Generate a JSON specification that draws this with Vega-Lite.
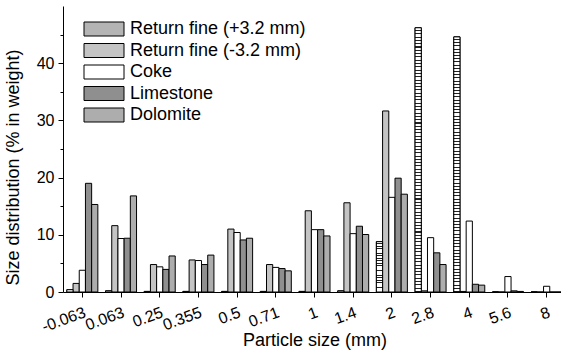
{
  "$schema": "https://vega.github.io/schema/vega-lite/v6.json",
  "autosize": {"type": "none"},
  "padding": {"left": 63, "top": 6, "right": 0, "bottom": 63},
  "width": 498,
  "height": 286,
  "background": "white",
  "config": {"view": {"stroke": null}, "font": "Liberation Sans"},
  "data": {"values": [
    {"size": "-0.063", "series": "Return fine (+3.2 mm)", "value": 0.4},
    {"size": "-0.063", "series": "Return fine (-3.2 mm)", "value": 1.5},
    {"size": "-0.063", "series": "Coke", "value": 3.8},
    {"size": "-0.063", "series": "Limestone", "value": 19.0},
    {"size": "-0.063", "series": "Dolomite", "value": 15.3},
    {"size": "0.063", "series": "Return fine (+3.2 mm)", "value": 0.2},
    {"size": "0.063", "series": "Return fine (-3.2 mm)", "value": 11.6},
    {"size": "0.063", "series": "Coke", "value": 9.35},
    {"size": "0.063", "series": "Limestone", "value": 9.4},
    {"size": "0.063", "series": "Dolomite", "value": 16.8},
    {"size": "0.25", "series": "Return fine (+3.2 mm)", "value": 0.1},
    {"size": "0.25", "series": "Return fine (-3.2 mm)", "value": 4.8},
    {"size": "0.25", "series": "Coke", "value": 4.4},
    {"size": "0.25", "series": "Limestone", "value": 3.95},
    {"size": "0.25", "series": "Dolomite", "value": 6.3},
    {"size": "0.355", "series": "Return fine (+3.2 mm)", "value": 0.1},
    {"size": "0.355", "series": "Return fine (-3.2 mm)", "value": 5.6},
    {"size": "0.355", "series": "Coke", "value": 5.5},
    {"size": "0.355", "series": "Limestone", "value": 4.8},
    {"size": "0.355", "series": "Dolomite", "value": 6.45},
    {"size": "0.5", "series": "Return fine (+3.2 mm)", "value": 0.1},
    {"size": "0.5", "series": "Return fine (-3.2 mm)", "value": 11.0},
    {"size": "0.5", "series": "Coke", "value": 10.4},
    {"size": "0.5", "series": "Limestone", "value": 9.1},
    {"size": "0.5", "series": "Dolomite", "value": 9.4},
    {"size": "0.71", "series": "Return fine (+3.2 mm)", "value": 0.1},
    {"size": "0.71", "series": "Return fine (-3.2 mm)", "value": 4.8},
    {"size": "0.71", "series": "Coke", "value": 4.3},
    {"size": "0.71", "series": "Limestone", "value": 4.1},
    {"size": "0.71", "series": "Dolomite", "value": 3.7},
    {"size": "1", "series": "Return fine (+3.2 mm)", "value": 0.1},
    {"size": "1", "series": "Return fine (-3.2 mm)", "value": 14.2},
    {"size": "1", "series": "Coke", "value": 10.9},
    {"size": "1", "series": "Limestone", "value": 10.9},
    {"size": "1", "series": "Dolomite", "value": 9.8},
    {"size": "1.4", "series": "Return fine (+3.2 mm)", "value": 0.2},
    {"size": "1.4", "series": "Return fine (-3.2 mm)", "value": 15.6},
    {"size": "1.4", "series": "Coke", "value": 10.2},
    {"size": "1.4", "series": "Limestone", "value": 11.5},
    {"size": "1.4", "series": "Dolomite", "value": 10.05},
    {"size": "2", "series": "Return fine (+3.2 mm)", "value": 8.8},
    {"size": "2", "series": "Return fine (-3.2 mm)", "value": 31.65},
    {"size": "2", "series": "Coke", "value": 16.55},
    {"size": "2", "series": "Limestone", "value": 19.9},
    {"size": "2", "series": "Dolomite", "value": 17.1},
    {"size": "2.8", "series": "Return fine (+3.2 mm)", "value": 46.2},
    {"size": "2.8", "series": "Return fine (-3.2 mm)", "value": 0.2},
    {"size": "2.8", "series": "Coke", "value": 9.5},
    {"size": "2.8", "series": "Limestone", "value": 6.85},
    {"size": "2.8", "series": "Dolomite", "value": 4.8},
    {"size": "4", "series": "Return fine (+3.2 mm)", "value": 44.6},
    {"size": "4", "series": "Return fine (-3.2 mm)", "value": 0.1},
    {"size": "4", "series": "Coke", "value": 12.4},
    {"size": "4", "series": "Limestone", "value": 1.35},
    {"size": "4", "series": "Dolomite", "value": 1.2},
    {"size": "5.6", "series": "Return fine (+3.2 mm)", "value": 0},
    {"size": "5.6", "series": "Return fine (-3.2 mm)", "value": 0},
    {"size": "5.6", "series": "Coke", "value": 2.7},
    {"size": "5.6", "series": "Limestone", "value": 0.2},
    {"size": "5.6", "series": "Dolomite", "value": 0.1},
    {"size": "8", "series": "Return fine (+3.2 mm)", "value": 0},
    {"size": "8", "series": "Return fine (-3.2 mm)", "value": 0},
    {"size": "8", "series": "Coke", "value": 1.0},
    {"size": "8", "series": "Limestone", "value": 0},
    {"size": "8", "series": "Dolomite", "value": 0}
  ]},
  "encoding": {
    "x": {
      "field": "size", "type": "ordinal",
      "sort": ["-0.063","0.063","0.25","0.355","0.5","0.71","1","1.4","2","2.8","4","5.6","8"],
      "scale": {"paddingInner": 0, "paddingOuter": 0, "range": [0, 503]},
      "axis": {
        "title": "Particle size (mm)", "titleFontSize": 18, "titleFontWeight": "normal", "titleColor": "black",
        "titleBaseline": "alphabetic", "titleY": 53,
        "labelAngle": -20, "labelAlign": "right", "labelBaseline": "top", "labelFontSize": 16, "labelColor": "black",
        "labelPadding": 7, "tickSize": 5, "tickColor": "black", "domainColor": "black", "grid": false
      }
    },
    "xOffset": {
      "field": "series",
      "sort": ["Return fine (+3.2 mm)", "Return fine (-3.2 mm)", "Coke", "Limestone", "Dolomite"],
      "scale": {"domain": ["Return fine (+3.2 mm)", "Return fine (-3.2 mm)", "Coke", "Limestone", "Dolomite"], "paddingInner": 0, "paddingOuter": 0.62}
    },
    "y": {
      "field": "value", "type": "quantitative",
      "scale": {"domain": [0, 50], "nice": false},
      "axis": {
        "title": "Size distribution (% in weight)", "titleFontSize": 18, "titleFontWeight": "normal", "titleColor": "black",
        "titleBaseline": "alphabetic", "titleAlign": "center", "titleX": -45, "titleY": 161,
        "values": [0, 5, 10, 15, 20, 25, 30, 35, 40, 45],
        "labelExpr": "datum.value % 10 ? '' : datum.label",
        "tickSize": {"expr": "datum.value % 10 ? 3 : 5"},
        "labelFontSize": 16, "labelColor": "black", "labelPadding": 4,
        "tickColor": "black", "domainColor": "black", "grid": false
      }
    }
  },
  "layer": [
    {
      "mark": {"type": "bar", "stroke": "black", "strokeWidth": 1, "opacity": 1},
      "encoding": {
        "fill": {
          "field": "series", "type": "nominal",
          "sort": ["Return fine (+3.2 mm)", "Return fine (-3.2 mm)", "Coke", "Limestone", "Dolomite"],
          "scale": {
            "domain": ["Return fine (+3.2 mm)", "Return fine (-3.2 mm)", "Coke", "Limestone", "Dolomite"],
            "range": ["#b4b4b4", "#c4c4c4", "#ffffff", "#8f8f8f", "#adadad"]
          },
          "legend": {
            "title": null, "orient": "none", "legendX": 32, "legendY": 14, "padding": 0,
            "symbolType": "M-2.5,-0.875H2.5V0.875H-2.5Z", "symbolSize": 256,
            "symbolStrokeColor": "black", "symbolStrokeWidth": 1, "symbolOpacity": 1,
            "labelFontSize": 18, "labelColor": "black", "labelOffset": 17, "rowPadding": 3.5, "labelLimit": 0
          }
        }
      }
    },
    {
      "transform": [{"filter": "datum.series === 'Return fine (+3.2 mm)'"}],
      "mark": {
        "type": "bar", "stroke": "black", "strokeWidth": 1, "opacity": 1,
        "fill": {"gradient": "linear", "x1": 0, "y1": 0, "x2": 0, "y2": 1, "stops": [
            {"offset": 0, "color": "#fff"}, {"offset": 0.0085, "color": "#fff"}, {"offset": 0.0085, "color": "#222"}, {"offset": 0.0125, "color": "#222"},
            {"offset": 0.0125, "color": "#fff"}, {"offset": 0.021, "color": "#fff"}, {"offset": 0.021, "color": "#222"}, {"offset": 0.025, "color": "#222"},
            {"offset": 0.025, "color": "#fff"}, {"offset": 0.0335, "color": "#fff"}, {"offset": 0.0335, "color": "#222"}, {"offset": 0.0375, "color": "#222"},
            {"offset": 0.0375, "color": "#fff"}, {"offset": 0.046, "color": "#fff"}, {"offset": 0.046, "color": "#222"}, {"offset": 0.05, "color": "#222"},
            {"offset": 0.05, "color": "#fff"}, {"offset": 0.0585, "color": "#fff"}, {"offset": 0.0585, "color": "#222"}, {"offset": 0.0625, "color": "#222"},
            {"offset": 0.0625, "color": "#fff"}, {"offset": 0.071, "color": "#fff"}, {"offset": 0.071, "color": "#222"}, {"offset": 0.075, "color": "#222"},
            {"offset": 0.075, "color": "#fff"}, {"offset": 0.0835, "color": "#fff"}, {"offset": 0.0835, "color": "#222"}, {"offset": 0.0875, "color": "#222"},
            {"offset": 0.0875, "color": "#fff"}, {"offset": 0.096, "color": "#fff"}, {"offset": 0.096, "color": "#222"}, {"offset": 0.1, "color": "#222"},
            {"offset": 0.1, "color": "#fff"}, {"offset": 0.1085, "color": "#fff"}, {"offset": 0.1085, "color": "#222"}, {"offset": 0.1125, "color": "#222"},
            {"offset": 0.1125, "color": "#fff"}, {"offset": 0.121, "color": "#fff"}, {"offset": 0.121, "color": "#222"}, {"offset": 0.125, "color": "#222"},
            {"offset": 0.125, "color": "#fff"}, {"offset": 0.1335, "color": "#fff"}, {"offset": 0.1335, "color": "#222"}, {"offset": 0.1375, "color": "#222"},
            {"offset": 0.1375, "color": "#fff"}, {"offset": 0.146, "color": "#fff"}, {"offset": 0.146, "color": "#222"}, {"offset": 0.15, "color": "#222"},
            {"offset": 0.15, "color": "#fff"}, {"offset": 0.1585, "color": "#fff"}, {"offset": 0.1585, "color": "#222"}, {"offset": 0.1625, "color": "#222"},
            {"offset": 0.1625, "color": "#fff"}, {"offset": 0.171, "color": "#fff"}, {"offset": 0.171, "color": "#222"}, {"offset": 0.175, "color": "#222"},
            {"offset": 0.175, "color": "#fff"}, {"offset": 0.1835, "color": "#fff"}, {"offset": 0.1835, "color": "#222"}, {"offset": 0.1875, "color": "#222"},
            {"offset": 0.1875, "color": "#fff"}, {"offset": 0.196, "color": "#fff"}, {"offset": 0.196, "color": "#222"}, {"offset": 0.2, "color": "#222"},
            {"offset": 0.2, "color": "#fff"}, {"offset": 0.2085, "color": "#fff"}, {"offset": 0.2085, "color": "#222"}, {"offset": 0.2125, "color": "#222"},
            {"offset": 0.2125, "color": "#fff"}, {"offset": 0.221, "color": "#fff"}, {"offset": 0.221, "color": "#222"}, {"offset": 0.225, "color": "#222"},
            {"offset": 0.225, "color": "#fff"}, {"offset": 0.2335, "color": "#fff"}, {"offset": 0.2335, "color": "#222"}, {"offset": 0.2375, "color": "#222"},
            {"offset": 0.2375, "color": "#fff"}, {"offset": 0.246, "color": "#fff"}, {"offset": 0.246, "color": "#222"}, {"offset": 0.25, "color": "#222"},
            {"offset": 0.25, "color": "#fff"}, {"offset": 0.2585, "color": "#fff"}, {"offset": 0.2585, "color": "#222"}, {"offset": 0.2625, "color": "#222"},
            {"offset": 0.2625, "color": "#fff"}, {"offset": 0.271, "color": "#fff"}, {"offset": 0.271, "color": "#222"}, {"offset": 0.275, "color": "#222"},
            {"offset": 0.275, "color": "#fff"}, {"offset": 0.2835, "color": "#fff"}, {"offset": 0.2835, "color": "#222"}, {"offset": 0.2875, "color": "#222"},
            {"offset": 0.2875, "color": "#fff"}, {"offset": 0.296, "color": "#fff"}, {"offset": 0.296, "color": "#222"}, {"offset": 0.3, "color": "#222"},
            {"offset": 0.3, "color": "#fff"}, {"offset": 0.3085, "color": "#fff"}, {"offset": 0.3085, "color": "#222"}, {"offset": 0.3125, "color": "#222"},
            {"offset": 0.3125, "color": "#fff"}, {"offset": 0.321, "color": "#fff"}, {"offset": 0.321, "color": "#222"}, {"offset": 0.325, "color": "#222"},
            {"offset": 0.325, "color": "#fff"}, {"offset": 0.3335, "color": "#fff"}, {"offset": 0.3335, "color": "#222"}, {"offset": 0.3375, "color": "#222"},
            {"offset": 0.3375, "color": "#fff"}, {"offset": 0.346, "color": "#fff"}, {"offset": 0.346, "color": "#222"}, {"offset": 0.35, "color": "#222"},
            {"offset": 0.35, "color": "#fff"}, {"offset": 0.3585, "color": "#fff"}, {"offset": 0.3585, "color": "#222"}, {"offset": 0.3625, "color": "#222"},
            {"offset": 0.3625, "color": "#fff"}, {"offset": 0.371, "color": "#fff"}, {"offset": 0.371, "color": "#222"}, {"offset": 0.375, "color": "#222"},
            {"offset": 0.375, "color": "#fff"}, {"offset": 0.3835, "color": "#fff"}, {"offset": 0.3835, "color": "#222"}, {"offset": 0.3875, "color": "#222"},
            {"offset": 0.3875, "color": "#fff"}, {"offset": 0.396, "color": "#fff"}, {"offset": 0.396, "color": "#222"}, {"offset": 0.4, "color": "#222"},
            {"offset": 0.4, "color": "#fff"}, {"offset": 0.4085, "color": "#fff"}, {"offset": 0.4085, "color": "#222"}, {"offset": 0.4125, "color": "#222"},
            {"offset": 0.4125, "color": "#fff"}, {"offset": 0.421, "color": "#fff"}, {"offset": 0.421, "color": "#222"}, {"offset": 0.425, "color": "#222"},
            {"offset": 0.425, "color": "#fff"}, {"offset": 0.4335, "color": "#fff"}, {"offset": 0.4335, "color": "#222"}, {"offset": 0.4375, "color": "#222"},
            {"offset": 0.4375, "color": "#fff"}, {"offset": 0.446, "color": "#fff"}, {"offset": 0.446, "color": "#222"}, {"offset": 0.45, "color": "#222"},
            {"offset": 0.45, "color": "#fff"}, {"offset": 0.4585, "color": "#fff"}, {"offset": 0.4585, "color": "#222"}, {"offset": 0.4625, "color": "#222"},
            {"offset": 0.4625, "color": "#fff"}, {"offset": 0.471, "color": "#fff"}, {"offset": 0.471, "color": "#222"}, {"offset": 0.475, "color": "#222"},
            {"offset": 0.475, "color": "#fff"}, {"offset": 0.4835, "color": "#fff"}, {"offset": 0.4835, "color": "#222"}, {"offset": 0.4875, "color": "#222"},
            {"offset": 0.4875, "color": "#fff"}, {"offset": 0.496, "color": "#fff"}, {"offset": 0.496, "color": "#222"}, {"offset": 0.5, "color": "#222"},
            {"offset": 0.5, "color": "#fff"}, {"offset": 0.5085, "color": "#fff"}, {"offset": 0.5085, "color": "#222"}, {"offset": 0.5125, "color": "#222"},
            {"offset": 0.5125, "color": "#fff"}, {"offset": 0.521, "color": "#fff"}, {"offset": 0.521, "color": "#222"}, {"offset": 0.525, "color": "#222"},
            {"offset": 0.525, "color": "#fff"}, {"offset": 0.5335, "color": "#fff"}, {"offset": 0.5335, "color": "#222"}, {"offset": 0.5375, "color": "#222"},
            {"offset": 0.5375, "color": "#fff"}, {"offset": 0.546, "color": "#fff"}, {"offset": 0.546, "color": "#222"}, {"offset": 0.55, "color": "#222"},
            {"offset": 0.55, "color": "#fff"}, {"offset": 0.5585, "color": "#fff"}, {"offset": 0.5585, "color": "#222"}, {"offset": 0.5625, "color": "#222"},
            {"offset": 0.5625, "color": "#fff"}, {"offset": 0.571, "color": "#fff"}, {"offset": 0.571, "color": "#222"}, {"offset": 0.575, "color": "#222"},
            {"offset": 0.575, "color": "#fff"}, {"offset": 0.5835, "color": "#fff"}, {"offset": 0.5835, "color": "#222"}, {"offset": 0.5875, "color": "#222"},
            {"offset": 0.5875, "color": "#fff"}, {"offset": 0.596, "color": "#fff"}, {"offset": 0.596, "color": "#222"}, {"offset": 0.6, "color": "#222"},
            {"offset": 0.6, "color": "#fff"}, {"offset": 0.6085, "color": "#fff"}, {"offset": 0.6085, "color": "#222"}, {"offset": 0.6125, "color": "#222"},
            {"offset": 0.6125, "color": "#fff"}, {"offset": 0.621, "color": "#fff"}, {"offset": 0.621, "color": "#222"}, {"offset": 0.625, "color": "#222"},
            {"offset": 0.625, "color": "#fff"}, {"offset": 0.6335, "color": "#fff"}, {"offset": 0.6335, "color": "#222"}, {"offset": 0.6375, "color": "#222"},
            {"offset": 0.6375, "color": "#fff"}, {"offset": 0.646, "color": "#fff"}, {"offset": 0.646, "color": "#222"}, {"offset": 0.65, "color": "#222"},
            {"offset": 0.65, "color": "#fff"}, {"offset": 0.6585, "color": "#fff"}, {"offset": 0.6585, "color": "#222"}, {"offset": 0.6625, "color": "#222"},
            {"offset": 0.6625, "color": "#fff"}, {"offset": 0.671, "color": "#fff"}, {"offset": 0.671, "color": "#222"}, {"offset": 0.675, "color": "#222"},
            {"offset": 0.675, "color": "#fff"}, {"offset": 0.6835, "color": "#fff"}, {"offset": 0.6835, "color": "#222"}, {"offset": 0.6875, "color": "#222"},
            {"offset": 0.6875, "color": "#fff"}, {"offset": 0.696, "color": "#fff"}, {"offset": 0.696, "color": "#222"}, {"offset": 0.7, "color": "#222"},
            {"offset": 0.7, "color": "#fff"}, {"offset": 0.7085, "color": "#fff"}, {"offset": 0.7085, "color": "#222"}, {"offset": 0.7125, "color": "#222"},
            {"offset": 0.7125, "color": "#fff"}, {"offset": 0.721, "color": "#fff"}, {"offset": 0.721, "color": "#222"}, {"offset": 0.725, "color": "#222"},
            {"offset": 0.725, "color": "#fff"}, {"offset": 0.7335, "color": "#fff"}, {"offset": 0.7335, "color": "#222"}, {"offset": 0.7375, "color": "#222"},
            {"offset": 0.7375, "color": "#fff"}, {"offset": 0.746, "color": "#fff"}, {"offset": 0.746, "color": "#222"}, {"offset": 0.75, "color": "#222"},
            {"offset": 0.75, "color": "#fff"}, {"offset": 0.7585, "color": "#fff"}, {"offset": 0.7585, "color": "#222"}, {"offset": 0.7625, "color": "#222"},
            {"offset": 0.7625, "color": "#fff"}, {"offset": 0.771, "color": "#fff"}, {"offset": 0.771, "color": "#222"}, {"offset": 0.775, "color": "#222"},
            {"offset": 0.775, "color": "#fff"}, {"offset": 0.7835, "color": "#fff"}, {"offset": 0.7835, "color": "#222"}, {"offset": 0.7875, "color": "#222"},
            {"offset": 0.7875, "color": "#fff"}, {"offset": 0.796, "color": "#fff"}, {"offset": 0.796, "color": "#222"}, {"offset": 0.8, "color": "#222"},
            {"offset": 0.8, "color": "#fff"}, {"offset": 0.8085, "color": "#fff"}, {"offset": 0.8085, "color": "#222"}, {"offset": 0.8125, "color": "#222"},
            {"offset": 0.8125, "color": "#fff"}, {"offset": 0.821, "color": "#fff"}, {"offset": 0.821, "color": "#222"}, {"offset": 0.825, "color": "#222"},
            {"offset": 0.825, "color": "#fff"}, {"offset": 0.8335, "color": "#fff"}, {"offset": 0.8335, "color": "#222"}, {"offset": 0.8375, "color": "#222"},
            {"offset": 0.8375, "color": "#fff"}, {"offset": 0.846, "color": "#fff"}, {"offset": 0.846, "color": "#222"}, {"offset": 0.85, "color": "#222"},
            {"offset": 0.85, "color": "#fff"}, {"offset": 0.8585, "color": "#fff"}, {"offset": 0.8585, "color": "#222"}, {"offset": 0.8625, "color": "#222"},
            {"offset": 0.8625, "color": "#fff"}, {"offset": 0.871, "color": "#fff"}, {"offset": 0.871, "color": "#222"}, {"offset": 0.875, "color": "#222"},
            {"offset": 0.875, "color": "#fff"}, {"offset": 0.8835, "color": "#fff"}, {"offset": 0.8835, "color": "#222"}, {"offset": 0.8875, "color": "#222"},
            {"offset": 0.8875, "color": "#fff"}, {"offset": 0.896, "color": "#fff"}, {"offset": 0.896, "color": "#222"}, {"offset": 0.9, "color": "#222"},
            {"offset": 0.9, "color": "#fff"}, {"offset": 0.9085, "color": "#fff"}, {"offset": 0.9085, "color": "#222"}, {"offset": 0.9125, "color": "#222"},
            {"offset": 0.9125, "color": "#fff"}, {"offset": 0.921, "color": "#fff"}, {"offset": 0.921, "color": "#222"}, {"offset": 0.925, "color": "#222"},
            {"offset": 0.925, "color": "#fff"}, {"offset": 0.9335, "color": "#fff"}, {"offset": 0.9335, "color": "#222"}, {"offset": 0.9375, "color": "#222"},
            {"offset": 0.9375, "color": "#fff"}, {"offset": 0.946, "color": "#fff"}, {"offset": 0.946, "color": "#222"}, {"offset": 0.95, "color": "#222"},
            {"offset": 0.95, "color": "#fff"}, {"offset": 0.9585, "color": "#fff"}, {"offset": 0.9585, "color": "#222"}, {"offset": 0.9625, "color": "#222"},
            {"offset": 0.9625, "color": "#fff"}, {"offset": 0.971, "color": "#fff"}, {"offset": 0.971, "color": "#222"}, {"offset": 0.975, "color": "#222"},
            {"offset": 0.975, "color": "#fff"}, {"offset": 0.9835, "color": "#fff"}, {"offset": 0.9835, "color": "#222"}, {"offset": 0.9875, "color": "#222"},
            {"offset": 0.9875, "color": "#fff"}, {"offset": 0.996, "color": "#fff"}, {"offset": 0.996, "color": "#222"}, {"offset": 1, "color": "#222"}
        ]}
      }
    }
  ]
}
